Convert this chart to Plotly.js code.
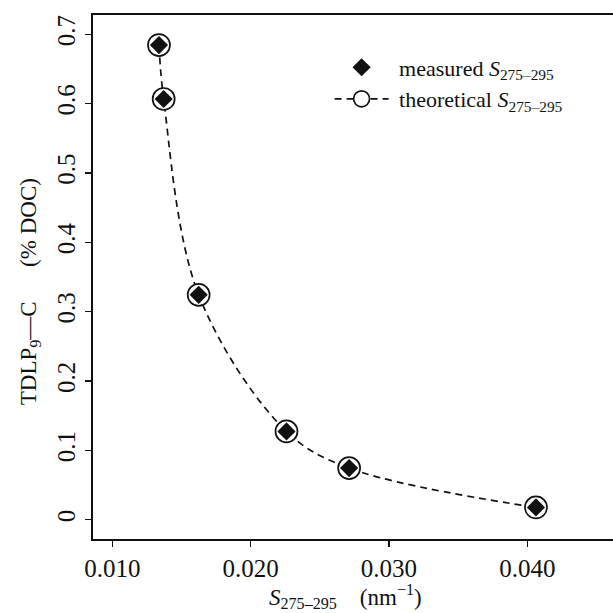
<!DOCTYPE html>
<html>
<head>
<meta charset="utf-8">
<script src="https://cdn.plot.ly/plotly-3.0.1.min.js"></script>
<style>html,body{margin:0;padding:0;background:#fff;overflow:hidden}</style>
</head>
<body>
<div id="chart" style="width:613px;height:613px"></div>
<script>
// Data
const slope = [0.01337, 0.01371, 0.01624, 0.02259, 0.02712, 0.04063];      // S275-295 (nm^-1)
const tdlpMeasured = [0.6845, 0.6067, 0.3243, 0.1273, 0.0745, 0.0177];      // TDLP9-C (% DOC)
const tdlpTheoretical = [0.6845, 0.6067, 0.3243, 0.1273, 0.0745, 0.0177];
const xTicks = [0.010, 0.020, 0.030, 0.040];
const xTickLabels = ['0.010', '0.020', '0.030', '0.040'];
const yTicks = [0, 0.1, 0.2, 0.3, 0.4, 0.5, 0.6, 0.7];
const yTickLabels = ['0', '0.1', '0.2', '0.3', '0.4', '0.5', '0.6', '0.7'];
const xTitle = '<i>S</i><sub>275–295</sub>\u2003(nm<sup>−1</sup>)';
const yTitle = 'TDLP<sub>9</sub>—C\u2003\u2002(% DOC)';

const FONT = 'Liberation Serif';
const INK = '#111111';

const traces = [
  {
    x: slope, y: tdlpTheoretical,
    mode: 'lines+markers',
    name: '\u00a0theoretical <i>S</i><sub>275–295</sub>',
    line: {color: INK, width: 1.7, dash: '7px,5px', shape: 'spline', smoothing: 1.0},
    marker: {symbol: 'circle', size: 22, color: '#ffffff', line: {color: INK, width: 1.7}},
    legendrank: 2
  },
  {
    x: slope, y: tdlpMeasured,
    mode: 'markers',
    name: '\u00a0measured <i>S</i><sub>275–295</sub>',
    marker: {symbol: 'diamond', size: 14, color: INK, line: {width: 0}},
    legendrank: 1
  }
];

const layout = {
  width: 613, height: 613,
  margin: {l: 93, r: 0, t: 15, b: 74},
  paper_bgcolor: '#ffffff', plot_bgcolor: '#ffffff',
  font: {family: FONT, color: INK, size: 24},
  showlegend: true,
  legend: {
    x: 0.455, y: 0.94, xanchor: 'left', yanchor: 'top',
    bgcolor: 'rgba(0,0,0,0)', borderwidth: 0,
    font: {family: FONT, size: 22, color: INK},
    itemwidth: 54, tracegroupgap: 0
  },
  xaxis: {
    range: [0.00860, 0.0462],
    tickvals: xTicks, ticktext: xTickLabels,
    ticks: 'outside', ticklen: 6, tickwidth: 1.2, tickcolor: INK,
    showline: true, linecolor: INK, linewidth: 2, mirror: true,
    showgrid: false, zeroline: false,
    tickfont: {family: FONT, size: 25, color: INK}
  },
  yaxis: {
    range: [-0.0278, 0.7278],
    tickvals: yTicks, ticktext: yTickLabels,
    tickangle: -90,
    ticks: 'outside', ticklen: 6, tickwidth: 1.2, tickcolor: INK,
    showline: true, linecolor: INK, linewidth: 2, mirror: false,
    showgrid: false, zeroline: false,
    tickfont: {family: FONT, size: 25, color: INK}
  },
  annotations: [
    {text: xTitle, xref: 'paper', yref: 'paper', x: 0.485, y: -0.109,
     xanchor: 'center', yanchor: 'middle', showarrow: false,
     font: {family: FONT, size: 23, color: INK}},
    {text: yTitle, xref: 'paper', yref: 'paper', x: -0.121, y: 0.471,
     xanchor: 'center', yanchor: 'middle', showarrow: false, textangle: -90,
     font: {family: FONT, size: 23, color: INK}}
  ]
};

Plotly.newPlot('chart', traces, layout, {displayModeBar: false, staticPlot: true});
</script>
</body>
</html>
